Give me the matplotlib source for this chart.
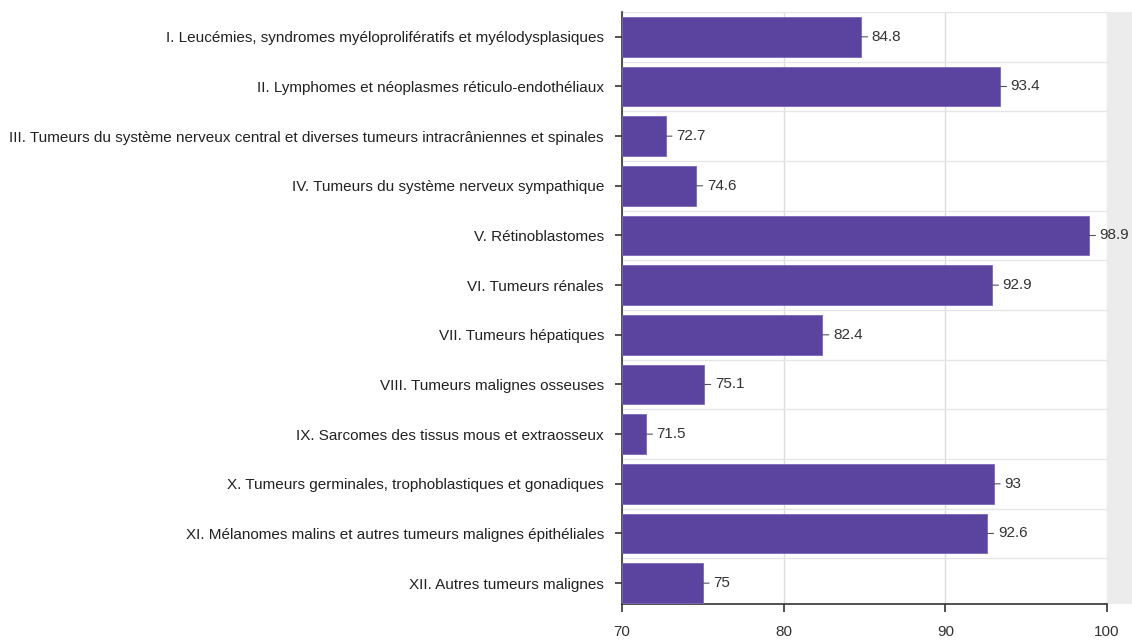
import matplotlib
matplotlib.use("Agg")
import matplotlib.pyplot as plt
from matplotlib.patches import Rectangle

categories = [
    "I. Leucémies, syndromes myéloprolifératifs et myélodysplasiques",
    "II. Lymphomes et néoplasmes réticulo-endothéliaux",
    "III. Tumeurs du système nerveux central et diverses tumeurs intracrâniennes et spinales",
    "IV. Tumeurs du système nerveux sympathique",
    "V. Rétinoblastomes",
    "VI. Tumeurs rénales",
    "VII. Tumeurs hépatiques",
    "VIII. Tumeurs malignes osseuses",
    "IX. Sarcomes des tissus mous et extraosseux",
    "X. Tumeurs germinales, trophoblastiques et gonadiques",
    "XI. Mélanomes malins et autres tumeurs malignes épithéliales",
    "XII. Autres tumeurs malignes",
]
values = [84.8, 93.4, 72.7, 74.6, 98.9, 92.9, 82.4, 75.1, 71.5, 93.0, 92.6, 75.0]
value_labels = ["84.8", "93.4", "72.7", "74.6", "98.9", "92.9", "82.4", "75.1", "71.5", "93", "92.6", "75"]
x_ticks = [70, 80, 90, 100]

plt.rcParams['font.family'] = ['Liberation Sans', 'DejaVu Sans']

W, H = 1132, 640
fig = plt.figure(figsize=(W / 100, H / 100), dpi=100)
fig.patch.set_facecolor('white')

# light grey band to the right of the plotting area
band = Rectangle((1107 / W, 36 / H), (W - 1107) / W, (628 - 36) / H,
                 transform=fig.transFigure, facecolor='#ececec',
                 edgecolor='none', zorder=-5)
fig.patches.append(band)

ax = fig.add_axes([622 / W, 36 / H, (1107 - 622) / W, (628 - 36) / H])
ax.set_facecolor('white')
ax.set_zorder(1)

base = 70
ypos = list(range(len(categories)))
bar_color = '#5b43a0'
ax.barh(ypos, [v - base for v in values], left=base, height=0.8,
        color=bar_color, edgecolor='#7a66bb', linewidth=0.6, zorder=3)

# value labels with small leader dash
for y, v, lab in zip(ypos, values, value_labels):
    ax.annotate(lab, xy=(v, y), xytext=(7.5, 0), textcoords='offset points',
                va='center', ha='left', fontsize=11, color='#333333', zorder=5,
                annotation_clip=False)
    ax.annotate('', xy=(v, y), xytext=(4.5, 0), textcoords='offset points',
                arrowprops=dict(arrowstyle='-', color='#555555', lw=0.8,
                                shrinkA=0, shrinkB=0), zorder=5)

ax.set_xlim(70, 100)
ax.set_ylim(len(categories) - 1 + 0.42, -0.5)

ax.set_yticks(ypos)
ax.set_yticklabels(categories, fontsize=11, color='#222222')
ax.set_xticks(x_ticks)
ax.set_xticklabels([str(t) for t in x_ticks], fontsize=11, color='#333333')

# gridlines: vertical at major x ticks, horizontal between categories
ax.set_yticks([i + 0.5 for i in range(-1, len(categories) - 1)], minor=True)
ax.grid(axis='x', which='major', color='#dddddd', linewidth=1, zorder=0)
ax.grid(axis='y', which='minor', color='#e6e6e6', linewidth=1, zorder=0)
ax.tick_params(axis='y', which='minor', length=0)

ax.tick_params(axis='y', which='major', direction='out', length=5, width=1.2,
               color='#333333', pad=8)
ax.tick_params(axis='x', which='major', direction='out', length=6, width=1.2,
               color='#333333', pad=9)

for s in ['top', 'right']:
    ax.spines[s].set_visible(False)
ax.spines['left'].set_color('#333333')
ax.spines['left'].set_linewidth(1.2)
ax.spines['bottom'].set_color('#333333')
ax.spines['bottom'].set_linewidth(1.2)

fig.savefig('out.png', dpi=100)
